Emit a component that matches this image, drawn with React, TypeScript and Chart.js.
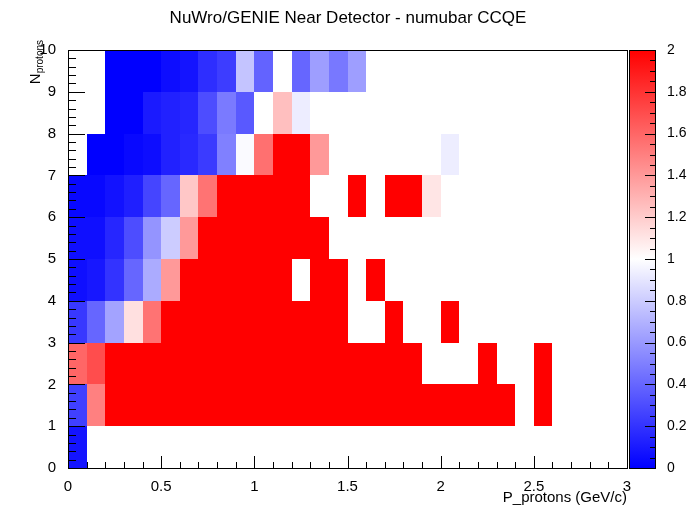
import React, { useEffect, useRef } from 'react';
import { Chart, registerables } from 'chart.js';

Chart.register(...registerables);

// one row per proton bin (0..9), one entry per 0.1 GeV/c momentum bin; null = empty bin
const E = null;
const row0 = [0.08];
const row1 = [0.25, 1.5, 2, 2, 2, 2, 2, 2, 2, 2, 2, 2, 2, 2, 2, 2, 2, 2, 2, 2, 2, 2, 2, 2, E, 2];
const row2 = [1.6, 1.7, 2, 2, 2, 2, 2, 2, 2, 2, 2, 2, 2, 2, 2, 2, 2, 2, 2, E, E, E, 2, E, E, 2];
const row3 = [0.22, 0.4, 0.64, 1.12, 1.55, 2, 2, 2, 2, 2, 2, 2, 2, 2, 2, E, E, 2, E, E, 2];
const row4 = [0.06, 0.09, 0.2, 0.4, 0.67, 1.4, 2, 2, 2, 2, 2, 2, E, 2, 2, E, 2];
const row5 = [0.06, 0.06, 0.15, 0.3, 0.58, 0.8, 1.4, 2, 2, 2, 2, 2, 2, 2];
const row6 = [0.03, 0.03, 0.07, 0.12, 0.27, 0.4, 1.22, 1.55, 2, 2, 2, 2, 2, E, E, 2, E, 2, 2, 1.1];
const row7 = [E, 0, 0, 0.03, 0.05, 0.13, 0.16, 0.23, 0.5, 0.98, 1.56, 2, 2, 1.4, E, E, E, E, E, E, 0.93];
const row8 = [E, E, 0, 0, 0.1, 0.13, 0.15, 0.3, 0.48, 0.35, E, 1.25, 0.93];
const row9 = [E, E, 0, 0, 0, 0.05, 0.08, 0.18, 0.24, 0.77, 0.39, E, 0.4, 0.62, 0.47, 0.62];
const rows = [row0, row1, row2, row3, row4, row5, row6, row7, row8, row9];

const binW = 0.1;
const zMin = 0;
const zMax = 2;
const FONT = '"Liberation Sans", Arial, sans-serif';

function colorFor(v: number) {
  const z = Math.max(zMin, Math.min(zMax, v));
  if (z <= 1) {
    const c = Math.round(255 * z);
    return `rgb(${c},${c},255)`;
  }
  const c = Math.round(255 * (2 - z));
  return `rgb(255,${c},${c})`;
}

const cells: { x: number; y: number; v: number }[] = [];
rows.forEach((r, iy) =>
  r.forEach((v, ix) => {
    if (v !== null) cells.push({ x: ix * binW, y: iy, v: v as number });
  })
);

const heatmap = {
  id: 'heatmap',
  beforeDatasetsDraw(chart: any) {
    const { ctx, chartArea: a, scales } = chart;
    const x = scales.x;
    const y = scales.y;
    ctx.save();
    for (const c of cells) {
      const x0 = x.getPixelForValue(c.x);
      const x1 = x.getPixelForValue(c.x + binW);
      const y0 = y.getPixelForValue(c.y + 1);
      const y1 = y.getPixelForValue(c.y);
      ctx.fillStyle = colorFor(c.v);
      ctx.fillRect(Math.round(x0), Math.round(y0), Math.round(x1) - Math.round(x0), Math.round(y1) - Math.round(y0));
    }
    ctx.strokeStyle = '#000';
    ctx.lineWidth = 1;
    ctx.strokeRect(a.left + 0.5, a.top + 0.5, a.right - a.left, a.bottom - a.top);
    // ticks
    ctx.beginPath();
    for (let i = 0; i <= 30; i++) {
      const px = Math.round(x.getPixelForValue(i * 0.1)) + 0.5;
      const len = i % 5 === 0 ? 12 : 6;
      ctx.moveTo(px, a.bottom);
      ctx.lineTo(px, a.bottom - len);
    }
    for (let i = 0; i <= 50; i++) {
      const py = Math.round(y.getPixelForValue(i * 0.2)) + 0.5;
      const len = i % 5 === 0 ? 17 : 8;
      ctx.moveTo(a.left, py);
      ctx.lineTo(a.left + len, py);
    }
    ctx.stroke();
    // colour bar
    const z = scales.z;
    const bl = a.right + 2;
    const br = a.right + 28;
    const g = ctx.createLinearGradient(0, a.bottom, 0, a.top);
    g.addColorStop(0, 'rgb(0,0,255)');
    g.addColorStop(0.5, 'rgb(255,255,255)');
    g.addColorStop(1, 'rgb(255,0,0)');
    ctx.fillStyle = g;
    ctx.fillRect(bl, a.top, br - bl, a.bottom - a.top);
    ctx.strokeRect(bl + 0.5, a.top + 0.5, br - bl, a.bottom - a.top);
    ctx.beginPath();
    for (let i = 0; i <= 40; i++) {
      const py = Math.round(z.getPixelForValue(i * 0.05)) + 0.5;
      const len = i % 4 === 0 ? 10 : 5;
      ctx.moveTo(br, py);
      ctx.lineTo(br - len, py);
    }
    ctx.stroke();
    // titles
    ctx.fillStyle = '#000';
    ctx.font = `17px ${FONT}`;
    ctx.textAlign = 'center';
    ctx.textBaseline = 'middle';
    ctx.fillText('NuWro/GENIE Near Detector - numubar CCQE', 348, 18);
    ctx.font = `15px ${FONT}`;
    ctx.textAlign = 'right';
    ctx.fillText('P_protons (GeV/c)', a.right, 498);
    ctx.translate(36, 40);
    ctx.rotate(-Math.PI / 2);
    ctx.textAlign = 'right';
    ctx.font = `10px ${FONT}`;
    ctx.fillText('protons', 0, 4);
    const w = ctx.measureText('protons').width;
    ctx.font = `15px ${FONT}`;
    ctx.fillText('N', -w, 0);
    ctx.restore();
  },
};

export default function App() {
  const ref = useRef<HTMLCanvasElement>(null);

  useEffect(() => {
    const ctx = ref.current?.getContext('2d');
    if (!ctx) return;
    const tickFont = { family: FONT, size: 15 };
    const chart = new Chart(ctx, {
      type: 'scatter',
      data: { datasets: [{ data: cells, pointRadius: 0 }] },
      options: {
        animation: false,
        responsive: false,
        events: [],
        layout: { padding: { top: 50, left: 0, right: 0, bottom: 0 } },
        plugins: { legend: { display: false }, tooltip: { enabled: false } },
        scales: {
          x: {
            type: 'linear',
            min: 0,
            max: 3,
            grid: { display: false },
            border: { display: false },
            ticks: {
              stepSize: 0.5,
              color: '#000',
              font: tickFont,
              padding: 2,
              maxRotation: 0,
              callback: (v: any) => String(Number(v)),
            },
            afterFit: (s: any) => { s.height = 54; },
          },
          y: {
            type: 'linear',
            min: 0,
            max: 10,
            grid: { display: false },
            border: { display: false },
            ticks: { stepSize: 1, color: '#000', font: tickFont, padding: 4 },
            afterFit: (s: any) => { s.width = 68; },
          },
          z: {
            type: 'linear',
            position: 'right',
            min: zMin,
            max: zMax,
            grid: { display: false },
            border: { display: false },
            ticks: {
              stepSize: 0.2,
              color: '#000',
              font: { family: FONT, size: 14 },
              padding: 32,
              callback: (v: any) => String(Math.round(Number(v) * 10) / 10),
            },
            afterFit: (s: any) => { s.width = 69; },
          },
        },
      },
      plugins: [heatmap],
    });
    return () => chart.destroy();
  }, []);

  return (
    <div style={{ position: 'absolute', left: 0, top: 0, width: 696, height: 522, background: '#fff' }}>
      <canvas ref={ref} width={696} height={522} />
    </div>
  );
}
